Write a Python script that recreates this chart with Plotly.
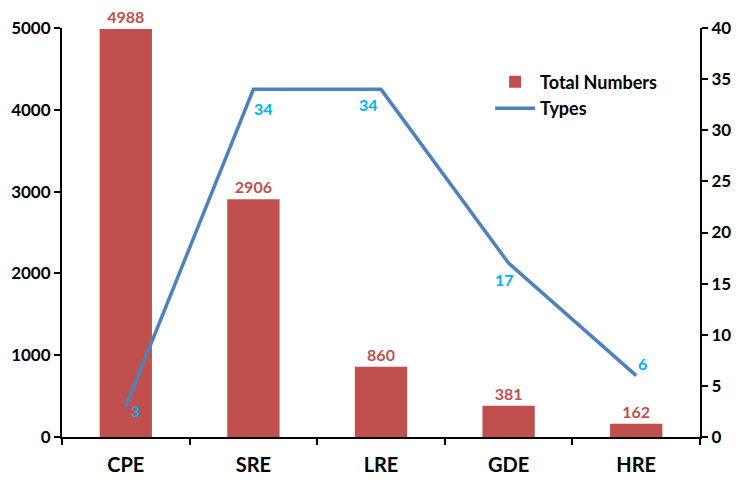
import plotly.graph_objects as go

categories = ["CPE", "SRE", "LRE", "GDE", "HRE"]
total_numbers = [4988, 2906, 860, 381, 162]
types = [3, 34, 34, 17, 6]
left_ticks = [0, 1000, 2000, 3000, 4000, 5000]
right_ticks = [0, 5, 10, 15, 20, 25, 30, 35, 40]

RED = "#C0504D"
BLUE = "#4F81BD"
LBLUE = "#00B0F0"
FONT = "Lato"

# label offsets (pixels) for the line's value labels
type_label_shift = [(10, -4), (10, -19), (-13, -15), (-4, -16), (6, 12)]

fig = go.Figure()
fig.add_trace(go.Bar(
    x=categories, y=total_numbers, name="Total Numbers",
    marker=dict(color=RED, line=dict(width=0)),
    text=[str(v) for v in total_numbers], textposition="outside",
    textfont=dict(color=RED, size=16, family=FONT, weight="bold"),
    cliponaxis=False, width=0.41,
))
fig.add_trace(go.Scatter(
    x=categories, y=types, name="Types", yaxis="y2", mode="lines",
    line=dict(color=BLUE, width=3.5),
    cliponaxis=False,
))
for c, v, (dx, dy) in zip(categories, types, type_label_shift):
    fig.add_annotation(x=c, y=v, xref="x", yref="y2", text=str(v), showarrow=False,
                       xshift=dx, yshift=dy,
                       font=dict(color=LBLUE, size=16, family=FONT, weight="bold"))

axis_common = dict(
    showgrid=False, zeroline=False, showline=True, linecolor="black", linewidth=2,
    ticks="outside", ticklen=6, tickwidth=2, tickcolor="black",
    tickfont=dict(family=FONT, size=17, color="black", weight="bold"),
)
fig.update_layout(
    width=744, height=490,
    margin=dict(l=62, r=44, t=28, b=53),
    paper_bgcolor="white", plot_bgcolor="white",
    font=dict(family=FONT, color="black"),
    showlegend=True,
    legend=dict(x=0.671, y=0.913, xanchor="left", yanchor="top",
                bgcolor="rgba(0,0,0,0)",
                font=dict(family=FONT, size=18, color="black", weight="bold"),
                tracegroupgap=16, itemwidth=40),
    xaxis=dict(showgrid=False, showline=True, linecolor="black", linewidth=2,
               ticks="outside", ticklen=6, tickwidth=2, tickcolor="black",
               tickson="boundaries", ticklabelstandoff=9,
               tickfont=dict(family=FONT, size=20, color="black", weight="bold")),
    yaxis=dict(range=[0, 5000], tickvals=left_ticks, **axis_common),
    yaxis2=dict(range=[0, 40], tickvals=right_ticks, overlaying="y", side="right",
                **axis_common),
    bargap=0.59,
)
fig.write_html("out.html", config={"displayModeBar": False},
               post_script="document.body.style.margin='0';document.body.style.overflow='hidden';")
